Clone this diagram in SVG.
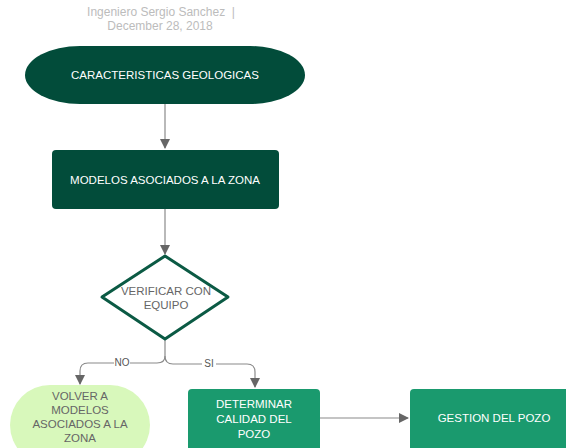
<svg xmlns="http://www.w3.org/2000/svg" width="566" height="448" viewBox="0 0 566 448">
<defs>
<style>
text{font-family:"Liberation Sans",Arial,sans-serif;font-size:11.5px;text-anchor:middle}
.w{fill:#ffffff}
.g{fill:#666666}
.h{fill:#bcbcbc;font-size:12px}
.c{fill:none;stroke:#8a8a8a;stroke-width:1.2}
.l{fill:#555555;font-size:10px}
</style>
<marker id="a" markerWidth="10" markerHeight="10" refX="9" refY="5" orient="auto" markerUnits="userSpaceOnUse">
<path d="M0,0 L10,5 L0,10 z" fill="#666666"/>
</marker>
</defs>
<rect width="566" height="448" fill="#ffffff"/>
<g id="header">
<text class="h" x="161" y="16" xml:space="preserve">Ingeniero Sergio Sanchez  |</text>
<text class="h" x="160" y="30">December 28, 2018</text>
</g>
<g id="connectors">
<path class="c" d="M165,104 V148" marker-end="url(#a)"/>
<path class="c" d="M165,209 V254" marker-end="url(#a)"/>
<path class="c" d="M165,340 V356 Q165,363 157,363 H88 Q80,363 80,371 V384" marker-end="url(#a)"/>
<path class="c" d="M165,356 Q165,364 173,364 H247 Q255,364 255,372 V387" marker-end="url(#a)"/>
<path class="c" d="M320,418 H408" marker-end="url(#a)"/>
<rect x="114" y="357" width="16" height="11" fill="#ffffff"/>
<text class="l" x="122" y="366">NO</text>
<rect x="202" y="358" width="14" height="11" fill="#ffffff"/>
<text class="l" x="209" y="367">SI</text>
</g>
<g id="n1">
<rect x="25" y="46" width="280" height="58" rx="55" ry="29" fill="#024c3a"/>
<text class="w" x="165" y="79">CARACTERISTICAS GEOLOGICAS</text>
</g>
<g id="n2">
<rect x="52" y="150" width="227" height="59" rx="4" fill="#024c3a"/>
<text class="w" x="165" y="184">MODELOS ASOCIADOS A LA ZONA</text>
</g>
<g id="n3">
<path d="M165,256 L228,297 L165,339 L102,297 Z" fill="#ffffff" stroke="#0b5a44" stroke-width="3" stroke-linejoin="round"/>
<text class="g" x="166" y="295">VERIFICAR CON</text>
<text class="g" x="166" y="309">EQUIPO</text>
</g>
<g id="n4">
<rect x="10" y="385" width="140" height="80" rx="40" fill="#d8f8bb"/>
<text class="g" x="80" y="400">VOLVER A</text>
<text class="g" x="80" y="414">MODELOS</text>
<text class="g" x="80" y="428">ASOCIADOS A LA</text>
<text class="g" x="80" y="442">ZONA</text>
</g>
<g id="n5">
<rect x="188" y="389" width="132" height="70" rx="4" fill="#1a9a6e"/>
<text class="w" x="254" y="408">DETERMINAR</text>
<text class="w" x="254" y="423">CALIDAD DEL</text>
<text class="w" x="254" y="438">POZO</text>
</g>
<g id="n6">
<rect x="410" y="389" width="170" height="70" rx="4" fill="#1a9a6e"/>
<text class="w" x="494" y="422">GESTION DEL POZO</text>
</g>
</svg>
